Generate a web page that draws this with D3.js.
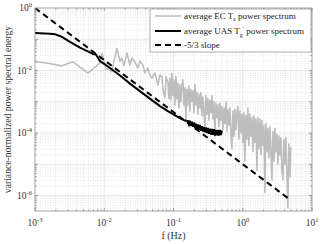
<!DOCTYPE html>
<html lang="en">
<head>
<meta charset="UTF-8">
<title>spectrum</title>
<script src="https://cdn.jsdelivr.net/npm/d3@7"></script>
<style>
    body{ margin:0; background:#fff; }
    text{ font-family:"Liberation Serif","DejaVu Serif",serif; fill:#333; }
    .lg text{ fill:#222; }
</style>
</head>
<body>
<svg id="main" width="320" height="244"></svg>
<script>
// average EC Ts power spectrum (gray)
let ecFreq = [
    1.0e-3, 1.39e-3, 2.45e-3, 3.53e-3, 5.82e-3, 8.67e-3, 9.27e-3, 1.06e-2, 1.17e-2, 1.29e-2,
    1.38e-2, 1.52e-2, 1.69e-2, 1.80e-2, 1.92e-2, 2.13e-2, 2.35e-2, 2.51e-2, 2.77e-2, 3.06e-2,
    3.27e-2, 3.61e-2, 3.86e-2, 4.27e-2, 4.56e-2, 4.87e-2, 5.39e-2, 5.96e-2, 6.37e-2, 6.81e-2,
    7.04e-2, 7.52e-2, 7.78e-2, 8.30e-2, 8.59e-2,
    0.0887, 0.0917, 0.0948, 0.0980, 0.1013, 0.1047, 0.1083, 0.1119, 0.1157, 0.1196,
    0.1237, 0.1279, 0.1322, 0.1367, 0.1413, 0.1461, 0.1510, 0.1561, 0.1614, 0.1669,
    0.1725, 0.1783, 0.1844, 0.1906, 0.1971, 0.2037, 0.2106, 0.2177, 0.2251, 0.2327,
    0.2406, 0.2487, 0.2571, 0.2658, 0.2748, 0.2841, 0.2937, 0.3036, 0.3139, 0.3245,
    0.3355, 0.3468, 0.3585, 0.3707, 0.3832, 0.3962, 0.4096, 0.4234, 0.4377, 0.4525,
    0.4678, 0.4837, 0.5000, 0.517, 0.534, 0.552, 0.571, 0.590, 0.610, 0.631,
    0.652, 0.674, 0.697, 0.721, 0.745, 0.770, 0.796, 0.823, 0.851, 0.880,
    0.910, 0.941, 0.973, 1.005, 1.039, 1.074, 1.111, 1.148, 1.187, 1.227,
    1.269, 1.312, 1.356, 1.402, 1.450, 1.499, 1.549, 1.602, 1.656, 1.712,
    1.770, 1.830, 1.892, 1.956, 2.022, 2.090, 2.161, 2.234, 2.309, 2.387,
    2.468, 2.551, 2.638, 2.727, 2.819, 2.914, 3.013, 3.115, 3.220, 3.329,
    3.441, 3.558, 3.678, 3.802, 3.931, 4.064, 4.201, 4.343, 4.490, 4.642,
    4.799, 4.96
]
let ecPower = [
    1.9e-2, 1.78e-2, 1.41e-2, 1.9e-2, 8.3e-3, 1.74e-2, 3.6e-2, 1.12e-2, 1.12e-2, 9.1e-3,
    2.0e-2, 5.0e-2, 2.0e-2, 2.5e-2, 1.41e-2, 3.6e-2, 1.51e-2, 2.5e-2, 1.86e-2, 1.2e-2,
    2.0e-2, 1.51e-2, 8.3e-3, 1.2e-2, 7.1e-3, 5.75e-3, 8.3e-3, 3.47e-3, 7.1e-3, 6.3e-3,
    2.5e-3, 1.32e-3, 6.3e-3, 4.37e-3, 1.26e-3,
    5.62e-3, 1.12e-3, 7.94e-3, 1.58e-3, 5.01e-3, 7.94e-4, 6.31e-3, 1.26e-3, 3.98e-3, 6.31e-4,
    3.55e-3, 1.0e-3, 3.16e-3, 5.01e-3, 7.94e-4, 2.82e-3, 2.51e-4, 2.51e-3, 7.94e-4, 3.16e-3,
    5.01e-4, 2.51e-3, 1.0e-3, 2.24e-3, 4.47e-4, 3.55e-3, 7.94e-4, 2.0e-3, 3.98e-4, 1.78e-3,
    6.31e-4, 2.0e-3, 3.55e-4, 1.41e-3, 5.01e-4, 1.26e-4, 1.58e-3, 3.98e-4, 1.26e-3, 2.51e-4,
    1.12e-3, 4.47e-4, 1.58e-3, 2.82e-4, 1.0e-3, 7.94e-5, 8.91e-4, 3.16e-4, 7.94e-4, 1.58e-4,
    8.91e-4, 2.51e-4, 7.08e-4, 1.26e-4, 6.31e-4, 2.0e-4, 1.0e-3, 1.12e-4, 5.62e-4, 1.78e-4,
    6.31e-4, 1.0e-4, 3.16e-5, 5.01e-4, 7.94e-5, 5.62e-4, 1.26e-4, 4.47e-4, 7.08e-4, 6.31e-5,
    5.01e-4, 1.0e-4, 3.98e-4, 5.01e-5, 4.47e-4, 1.26e-5, 3.55e-4, 6.31e-5, 6.31e-4, 3.98e-5,
    3.98e-4, 7.94e-5, 3.16e-4, 2.51e-5, 3.55e-4, 5.01e-5, 2.82e-4, 6.31e-6, 3.16e-4, 3.16e-5,
    2.82e-4, 2.0e-5, 2.51e-4, 3.98e-5, 1.78e-4, 1.26e-6, 2.0e-4, 2.51e-5, 1.41e-4, 1.58e-5,
    1.58e-4, 3.16e-5, 3.16e-6, 1.12e-4, 1.26e-5, 1.41e-4, 2.51e-5, 8.91e-5, 1.0e-5, 7.94e-5,
    2.0e-5, 7.08e-5, 6.31e-6, 3.16e-6, 6.31e-5, 1.0e-5, 7.08e-5, 5.01e-6, 3.98e-7, 4.47e-5,
    3.98e-6, 3.55e-5
]

// average UAS Tg' power spectrum (black)
let uasFreq = [
    1.0e-3, 1.64e-3, 1.95e-3, 2.45e-3, 3.20e-3, 4.46e-3, 6.22e-3, 6.87e-3, 7.59e-3, 8.67e-3,
    1.02e-2, 1.21e-2, 1.69e-2, 2.35e-2, 3.27e-2, 4.56e-2, 6.37e-2, 8.87e-2, 0.1237, 0.146,
    0.1614, 0.1669, 0.1725, 0.1783, 0.1844, 0.1906, 0.1971, 0.2037, 0.2106, 0.2177,
    0.2251, 0.2327, 0.2406, 0.2487, 0.2571, 0.2658, 0.2748, 0.2841, 0.2937, 0.3036,
    0.3139, 0.3245, 0.3355, 0.3468, 0.3585, 0.3707, 0.3832, 0.3962, 0.4096, 0.4234,
    0.4377, 0.4525, 0.4678, 0.4837, 0.5000
]
let uasPower = [
    0.158, 0.151, 0.145, 0.120, 0.083, 0.0537, 0.038, 0.0339, 0.0324, 0.020,
    0.0158, 0.012, 6.9e-3, 3.8e-3, 2.19e-3, 1.26e-3, 7.24e-4, 4.57e-4, 3.0e-4, 2.5e-4,
    2.4e-4, 1.9e-4, 2.5e-4, 1.74e-4, 2.29e-4, 1.58e-4, 2.19e-4, 1.45e-4, 2.0e-4, 1.32e-4,
    1.9e-4, 1.26e-4, 1.82e-4, 1.17e-4, 1.66e-4, 1.12e-4, 1.58e-4, 1.05e-4, 1.51e-4, 1.0e-4,
    1.45e-4, 9.5e-5, 1.38e-4, 8.9e-5, 1.35e-4, 8.7e-5, 1.32e-4, 8.3e-5, 1.26e-4, 8.5e-5,
    1.26e-4, 8.3e-5, 1.26e-4, 8.7e-5, 1.2e-4
]

// -5/3 slope reference
let slopeFreq = [0.001, 4.6]
let slopePower = [1, 7.9e-7]

let xTicks = [1e-3, 1e-2, 1e-1, 1e0, 1e1]
let xTickExp = ["-3", "-2", "-1", "0", "1"]
let yTicks = [1e0, 1e-2, 1e-4, 1e-6]
let yTickExp = ["0", "-2", "-4", "-6"]

let legendNames = ["average EC T", "average UAS T", "-5/3 slope"]

let L = 35, R = 312, T = 8, B = 211
let svg = d3.select("#main")
let x = d3.scaleLog().domain([1e-3, 10]).range([L, R])
let y = d3.scaleLog().domain([3.2e-7, 1]).range([B, T])

svg.append("defs").append("clipPath").attr("id", "clip")
    .append("rect").attr("x", L).attr("y", T).attr("width", R - L).attr("height", B - T)

// grid
let minorX = [], minorY = []
for (let e = -3; e < 1; e++) for (let m = 2; m < 10; m++) minorX.push(m * Math.pow(10, e))
for (let e = -7; e < 0; e++) for (let m = 2; m < 10; m++) {
    let v = m * Math.pow(10, e)
    if (v > 3.2e-7 && v < 1) minorY.push(v)
}
let majorY = [1e-1, 1e-2, 1e-3, 1e-4, 1e-5, 1e-6]
let grid = svg.append("g")
grid.selectAll(".mx").data(minorX).join("line")
    .attr("x1", d => x(d)).attr("x2", d => x(d)).attr("y1", T).attr("y2", B)
    .attr("stroke", "#d8d8d8").attr("stroke-width", 0.6).attr("stroke-dasharray", "1,1.5")
grid.selectAll(".my").data(minorY).join("line")
    .attr("y1", d => y(d)).attr("y2", d => y(d)).attr("x1", L).attr("x2", R)
    .attr("stroke", "#d8d8d8").attr("stroke-width", 0.6).attr("stroke-dasharray", "1,1.5")
grid.selectAll(".Mx").data(xTicks.slice(1, 4)).join("line")
    .attr("x1", d => x(d)).attr("x2", d => x(d)).attr("y1", T).attr("y2", B)
    .attr("stroke", "#e2e2e2").attr("stroke-width", 0.8)
grid.selectAll(".My").data(majorY).join("line")
    .attr("y1", d => y(d)).attr("y2", d => y(d)).attr("x1", L).attr("x2", R)
    .attr("stroke", "#e2e2e2").attr("stroke-width", 0.8)

// series
let plot = svg.append("g").attr("clip-path", "url(#clip)")
let line = d3.line().x(d => x(d[0])).y(d => y(d[1]))
plot.append("path").datum(d3.zip(ecFreq, ecPower)).attr("d", line)
    .attr("fill", "none").attr("stroke", "#bdbdbd").attr("stroke-width", 1.6)
    .attr("stroke-linejoin", "round")
plot.append("path").datum(d3.zip(uasFreq, uasPower)).attr("d", line)
    .attr("fill", "none").attr("stroke", "#000").attr("stroke-width", 2)
plot.append("path").datum(d3.zip(slopeFreq, slopePower)).attr("d", line)
    .attr("fill", "none").attr("stroke", "#000").attr("stroke-width", 2)
    .attr("stroke-dasharray", "6,4")

// box and ticks
let ax = svg.append("g").attr("stroke", "#8a8a8a").attr("stroke-width", 0.8)
ax.append("rect").attr("x", L).attr("y", T).attr("width", R - L).attr("height", B - T).attr("fill", "none")
xTicks.concat(minorX).forEach((d, i) => {
    let len = i < xTicks.length ? 3 : 1.6
    ax.append("line").attr("x1", x(d)).attr("x2", x(d)).attr("y1", B).attr("y2", B - len)
    ax.append("line").attr("x1", x(d)).attr("x2", x(d)).attr("y1", T).attr("y2", T + len)
})
majorY.concat(minorY).forEach((d, i) => {
    let len = i < majorY.length ? 3 : 1.6
    ax.append("line").attr("y1", y(d)).attr("y2", y(d)).attr("x1", L).attr("x2", L + len)
    ax.append("line").attr("y1", y(d)).attr("y2", y(d)).attr("x1", R).attr("x2", R - len)
})

// tick labels
xTicks.forEach((d, i) => {
    let t = svg.append("text").attr("x", x(d)).attr("y", 226).attr("text-anchor", "middle")
        .attr("font-size", 9.5).text("10")
    t.append("tspan").attr("dy", -4).attr("font-size", 6.5).text(xTickExp[i])
})
yTicks.forEach((d, i) => {
    let t = svg.append("text").attr("x", 32).attr("y", y(d) + 3).attr("text-anchor", "end")
        .attr("font-size", 9.5).text("10")
    t.append("tspan").attr("dy", -4).attr("font-size", 6.5).text(yTickExp[i])
})

svg.append("text").attr("x", (L + R) / 2).attr("y", 239).attr("text-anchor", "middle")
    .attr("font-size", 10).text("f (Hz)")
svg.append("text").attr("transform", "translate(11," + ((T + B) / 2) + ") rotate(-90)")
    .attr("text-anchor", "middle").attr("font-size", 9.7)
    .text("variance-normalized power spectral energy")

// legend
let lg = svg.append("g").attr("class", "lg")
lg.append("rect").attr("x", 150).attr("y", 9).attr("width", 161).attr("height", 43)
    .attr("fill", "#fff").attr("stroke", "#9a9a9a").attr("stroke-width", 0.8)
let lgY = [16, 31, 45]
let lgStroke = ["#bdbdbd", "#000", "#000"]
let lgWidth = [1.5, 2, 2]
let lgDash = [null, null, "6,4"]
legendNames.forEach((n, i) => {
    lg.append("line").attr("x1", 155).attr("x2", 181).attr("y1", lgY[i]).attr("y2", lgY[i])
        .attr("stroke", lgStroke[i]).attr("stroke-width", lgWidth[i]).attr("stroke-dasharray", lgDash[i])
    let t = lg.append("text").attr("x", 184).attr("y", lgY[i] + 3).attr("font-size", 9).text(n)
    if (i == 0) {
        t.append("tspan").attr("dy", 2).attr("font-size", 6).text("s")
        t.append("tspan").attr("dy", -2).text(" power spectrum")
    } else if (i == 1) {
        t.append("tspan").attr("dy", 2.5).attr("font-size", 6).text("g")
        t.append("tspan").attr("dy", -6).attr("font-size", 6).text("'")
        t.append("tspan").attr("dy", 3.5).text(" power spectrum")
    }
})
</script>
</body>
</html>
